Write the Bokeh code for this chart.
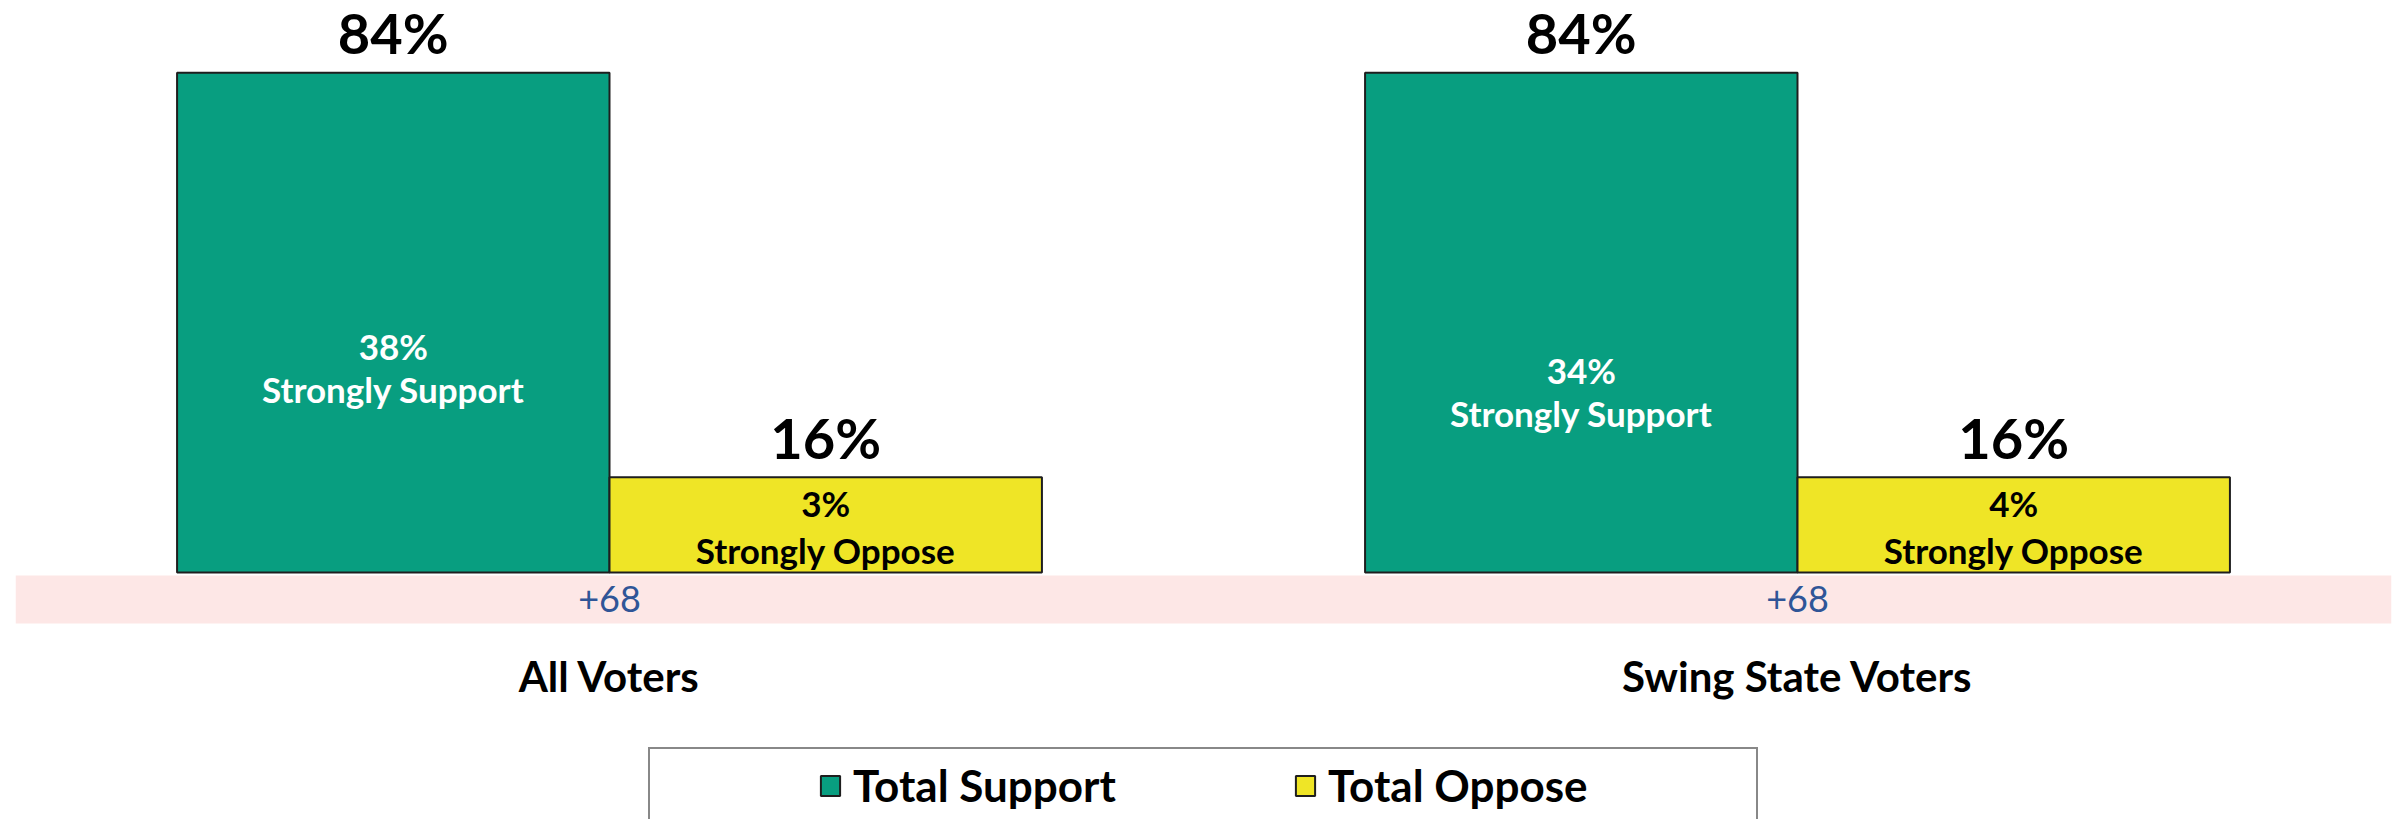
from bokeh.plotting import figure
from bokeh.models import ColumnDataSource, FactorRange, Range1d, BoxAnnotation, Legend, LegendItem
from bokeh.transform import dodge
from bokeh.core.properties import value
from bokeh.embed import file_html
from bokeh.resources import INLINE

categories = ["All Voters", "Swing State Voters"]
total_support = [84, 84]
total_oppose = [16, 16]
strongly_support = [38, 34]
strongly_oppose = [3, 4]
series_names = ["Total Support", "Total Oppose"]

GREEN = "#089E80"
YELLOW = "#EFE526"
EDGE = "#1E1E1E"
FONT = "Lato"

margins = [s - o for s, o in zip(total_support, total_oppose)]
src = ColumnDataSource(dict(
    cat=categories,
    support=total_support,
    oppose=total_oppose,
    ss=strongly_support,
    so=strongly_oppose,
    zero=[0] * len(categories),
    support_lbl=[f"{v}%" for v in total_support],
    oppose_lbl=[f"{v}%" for v in total_oppose],
    ss_lbl=[f"{v}%" for v in strongly_support],
    so_lbl=[f"{v}%" for v in strongly_oppose],
    ss_txt=["Strongly Support"] * len(categories),
    so_txt=["Strongly Oppose"] * len(categories),
    margin_lbl=[f"+{m}" if m > 0 else f"{m}" for m in margins],
))

p = figure(width=2405, height=819,
           x_range=FactorRange(factors=categories),
           y_range=Range1d(-41.51, 94.79),
           output_backend="svg", toolbar_location=None,
           x_axis_location=None, y_axis_location=None,
           min_border_left=15, min_border_right=14,
           min_border_top=8, min_border_bottom=0)
p.outline_line_color = None
p.xgrid.grid_line_color = None
p.ygrid.grid_line_color = None
p.background_fill_color = "white"

band = BoxAnnotation(top=-0.5, bottom=-8.57, fill_color="#FDE7E6", fill_alpha=1.0,
                     line_alpha=0, level="underlay")
p.add_layout(band)

W = 0.364
off = W / 2
xs = dodge("cat", -off, range=p.x_range)
xo = dodge("cat", off, range=p.x_range)

r1 = p.vbar(x=xs, top="support", bottom="zero", width=W, source=src,
            fill_color=GREEN, line_color=EDGE, line_width=2)
r2 = p.vbar(x=xo, top="oppose", bottom="zero", width=W, source=src,
            fill_color=YELLOW, line_color=EDGE, line_width=2)

common = dict(source=src, text_align="center", text_font=value(FONT),
              text_baseline="middle")
p.text(x=xs, y="support", text="support_lbl", text_font_size="56px",
       text_font_style="bold", y_offset=-40, text_color="black", **common)
p.text(x=xo, y="oppose", text="oppose_lbl", text_font_size="56px",
       text_font_style="bold", y_offset=-40, text_color="black", **common)

p.text(x=xs, y="ss", text="ss_lbl", text_font_size="35px", text_font_style="bold",
       text_color="white", **common)
p.text(x=xs, y="ss", text="ss_txt", text_font_size="35px", text_font_style="bold",
       y_offset=43, text_color="white", **common)

p.text(x=xo, y="oppose", text="so_lbl", text_font_size="35px", text_font_style="bold",
       y_offset=26, text_color="black", **common)
p.text(x=xo, y="oppose", text="so_txt", text_font_size="35px", text_font_style="bold",
       y_offset=73, text_color="black", **common)

p.text(x="cat", y="zero", text="margin_lbl", text_font_size="36px",
       y_offset=26, text_color="#2F5597", **common)

p.text(x="cat", y="zero", text="cat", text_font_size="42px", text_font_style="bold",
       y_offset=103, text_color="black", **common)

legend = Legend(
    items=[LegendItem(label=series_names[0], renderers=[r1]),
           LegendItem(label=series_names[1], renderers=[r2])],
    orientation="horizontal",
    location=(633, -4),
    padding=10, spacing=22, margin=0,
    glyph_width=24, glyph_height=25,
    label_standoff=11, label_width=418,
    label_text_font=FONT, label_text_font_style="bold",
    label_text_font_size="44px", label_text_color="black",
    border_line_color="#111111", border_line_width=2,
    background_fill_color="white", background_fill_alpha=1.0,
    title=" ", title_location="left", title_standoff=147,
    title_text_font_size="10px",
)
p.add_layout(legend, "center")

open("out.html", "w").write(file_html(p, INLINE))
